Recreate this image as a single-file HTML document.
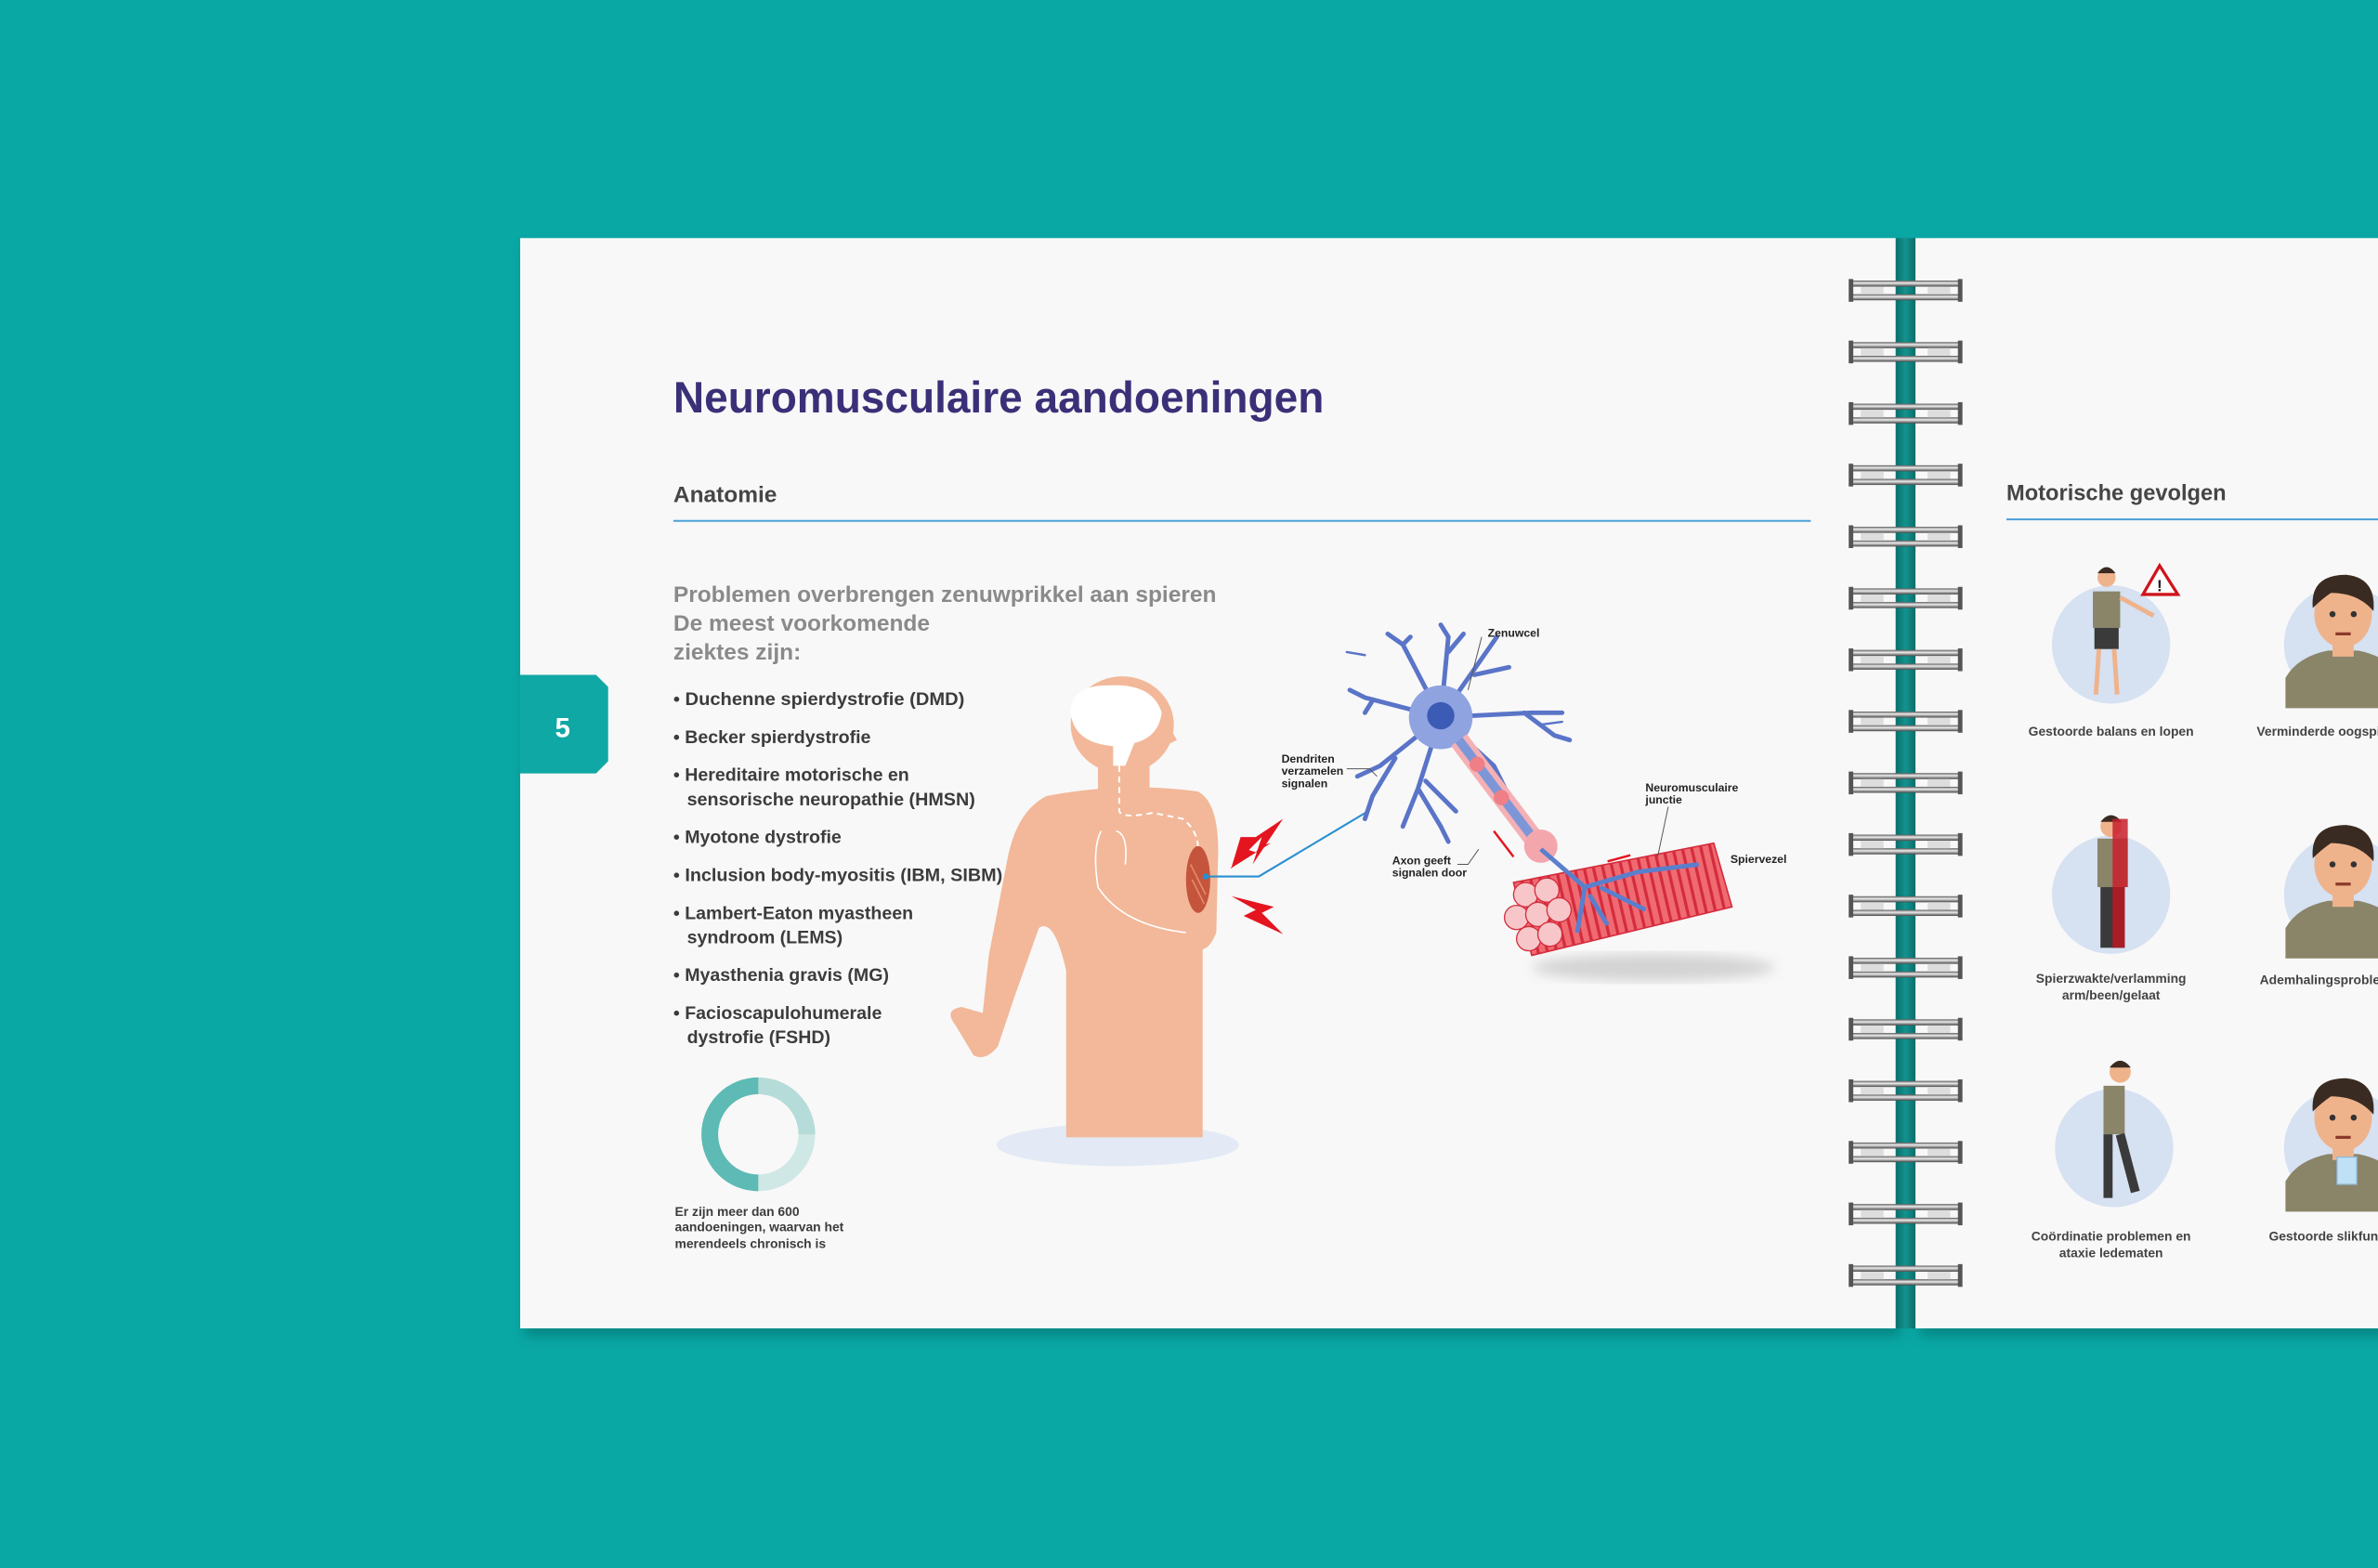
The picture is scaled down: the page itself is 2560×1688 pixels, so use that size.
<!DOCTYPE html>
<html><head><meta charset="utf-8"><style>
html,body{margin:0;padding:0;background:#0aa8a5;}
svg{display:block;}
text{font-family:"Liberation Sans",sans-serif;font-weight:bold;}
</style></head><body>
<svg width="2560" height="1688" viewBox="0 0 1568 1034" preserveAspectRatio="none" xmlns="http://www.w3.org/2000/svg">
<defs>
<filter id="sh" x="-5%" y="-5%" width="110%" height="115%"><feGaussianBlur stdDeviation="4"/></filter>
<filter id="bl"><feGaussianBlur stdDeviation="4"/></filter>
<linearGradient id="spine" x1="0" x2="1"><stop offset="0" stop-color="#0a6e6b"/><stop offset="0.5" stop-color="#14938f"/><stop offset="1" stop-color="#0a6e6b"/></linearGradient>
<linearGradient id="ring" x1="0" y1="0" x2="0" y2="1"><stop offset="0" stop-color="#555"/><stop offset="0.4" stop-color="#eee"/><stop offset="1" stop-color="#444"/></linearGradient>
<pattern id="stripe" width="6" height="10" patternUnits="userSpaceOnUse" patternTransform="rotate(-13)"><rect width="6" height="10" fill="#f06a72"/><rect width="2" height="10" fill="#d42c3c"/></pattern>
<clipPath id="rp"><rect x="1263" y="157" width="305" height="719"/></clipPath>
<g id="bust">
<circle cx="0" cy="0" r="39" fill="#d6e1f2"/>
<path d="M-38 22 Q-30 8 -10 4 L10 4 Q30 8 38 22 L38 42 L-38 42 Z" fill="#8a8468"/>
<rect x="-7" y="-6" width="14" height="14" fill="#efb38c"/>
<ellipse cx="0" cy="-20" rx="19" ry="22" fill="#efb38c"/>
<path d="M-20 -24 Q-22 -46 2 -46 Q22 -44 20 -22 Q10 -34 -8 -34 Q-14 -30 -20 -24 Z" fill="#3a2b22"/>
<circle cx="-7" cy="-20" r="2" fill="#333"/><circle cx="7" cy="-20" r="2" fill="#333"/>
<path d="M-5 -7 L5 -7" stroke="#8a3a2a" stroke-width="2"/>
</g>
</defs>

<rect width="1568" height="1034" fill="#0aa8a5"/>
<rect x="346" y="162" width="907" height="719" fill="#06625f" opacity="0.5" filter="url(#sh)"/>
<rect x="1266" y="162" width="310" height="719" fill="#06625f" opacity="0.5" filter="url(#sh)"/>
<rect x="343" y="157" width="907" height="719" fill="#f8f8f8"/>
<rect x="1263" y="157" width="305" height="719" fill="#f8f8f8"/>
<rect x="1250" y="157" width="13" height="719" fill="url(#spine)"/>

<g>
<g id="r0"><rect x="1220" y="185" width="73" height="4" fill="url(#ring)"/><rect x="1220" y="194" width="73" height="4" fill="url(#ring)"/><rect x="1219" y="184" width="3" height="15" fill="#555"/><rect x="1291" y="184" width="3" height="15" fill="#555"/><rect x="1227" y="189" width="15" height="5" fill="#ddd"/><rect x="1271" y="189" width="15" height="5" fill="#ddd"/></g>
<use href="#r0" y="40.6"/><use href="#r0" y="81.2"/><use href="#r0" y="121.8"/><use href="#r0" y="162.4"/><use href="#r0" y="203"/><use href="#r0" y="243.6"/><use href="#r0" y="284.2"/><use href="#r0" y="324.8"/><use href="#r0" y="365.4"/><use href="#r0" y="406"/><use href="#r0" y="446.6"/><use href="#r0" y="487.2"/><use href="#r0" y="527.8"/><use href="#r0" y="568.4"/><use href="#r0" y="609"/><use href="#r0" y="649.6"/>
</g>

<path d="M343 445 L393 445 L401 453 L401 502 L393 510 L343 510 Z" fill="#10a8a4"/>
<text x="371" y="486" font-size="18" fill="#fff" text-anchor="middle">5</text>

<text x="444" y="272" font-size="29" fill="#3a3078" textLength="429" lengthAdjust="spacingAndGlyphs">Neuromusculaire aandoeningen</text>
<text x="444" y="331" font-size="15" fill="#454545">Anatomie</text>
<line x1="444" y1="343.5" x2="1194" y2="343.5" stroke="#4a9fd8" stroke-width="1.2"/>
<g font-size="15" fill="#8a8a8a">
<text x="444" y="397" textLength="358" lengthAdjust="spacingAndGlyphs">Problemen overbrengen zenuwprikkel aan spieren</text>
<text x="444" y="416">De meest voorkomende</text>
<text x="444" y="435">ziektes zijn:</text>
</g>
<g font-size="12" fill="#3c3c3c">
<text x="444" y="465" textLength="192" lengthAdjust="spacingAndGlyphs">• Duchenne spierdystrofie (DMD)</text>
<text x="444" y="490">• Becker spierdystrofie</text>
<text x="444" y="515">• Hereditaire motorische en</text>
<text x="453" y="531" textLength="190" lengthAdjust="spacingAndGlyphs">sensorische neuropathie (HMSN)</text>
<text x="444" y="556">• Myotone dystrofie</text>
<text x="444" y="581" textLength="217" lengthAdjust="spacingAndGlyphs">• Inclusion body-myositis (IBM, SIBM)</text>
<text x="444" y="606">• Lambert-Eaton myastheen</text>
<text x="453" y="622">syndroom (LEMS)</text>
<text x="444" y="647">• Myasthenia gravis (MG)</text>
<text x="444" y="672">• Facioscapulohumerale</text>
<text x="453" y="688">dystrofie (FSHD)</text>
</g>

<circle cx="500" cy="748" r="32" fill="none" stroke="#cfe8e5" stroke-width="11"/>
<path d="M500 716 A32 32 0 0 1 532 748" fill="none" stroke="#b5dcd8" stroke-width="11"/>
<path d="M500 780 A32 32 0 0 1 468 748 A32 32 0 0 1 500 716" fill="none" stroke="#5dbab4" stroke-width="11"/>
<g font-size="8.5" fill="#3c3c3c">
<text x="445" y="802">Er zijn meer dan 600</text>
<text x="445" y="812">aandoeningen, waarvan het</text>
<text x="445" y="823">merendeels chronisch is</text>
</g>

<ellipse cx="737" cy="755" rx="80" ry="14" fill="#e3eaf5"/>
<path d="M690 525 Q740 515 790 522 Q805 530 803 570 L802 615 Q798 625 793 626 L793 750 L703 750 L703 640 Q695 605 685 612 L668 660 L658 690 Q650 700 642 696 L630 676 Q622 666 634 664 L648 668 L652 630 L664 568 Q670 535 690 525 Z" fill="#f2b899"/>
<rect x="724" y="495" width="34" height="32" fill="#f2b899"/>
<ellipse cx="740" cy="478" rx="34" ry="32" fill="#f2b899"/>
<path d="M766 470 L776 488 L768 492 Z" fill="#f2b899"/>
<path d="M706 470 Q706 452 730 452 Q760 450 766 470 Q764 486 748 490 L742 505 L734 505 L734 492 Q708 490 706 470 Z" fill="#fff"/>
<path d="M738 505 L738 535 Q740 540 760 536 L780 540 Q790 548 790 560" fill="none" stroke="#fff" stroke-width="1.2" stroke-dasharray="4 3"/>
<path d="M726 548 Q720 560 724 585 Q740 610 782 615 M736 548 Q744 550 742 570" fill="none" stroke="#fff" stroke-width="1"/>
<ellipse cx="790" cy="580" rx="8" ry="22" fill="#c4553c"/>
<path d="M785 570 L795 590 M786 580 L794 596" stroke="#e48a6c" stroke-width="1"/>
<circle cx="795" cy="578" r="2" fill="#2a8fd0"/>
<path d="M795 578 L830 578 L902 535" fill="none" stroke="#2a8fd0" stroke-width="1.3"/>
<path d="M846 540 L826 570 L832 552 L812 572 L818 552 L828 552 Z" fill="#e4151f"/>
<path d="M846 540 L830 558 L838 556 L811 573 L822 560 L828 562 Z" fill="#e4151f"/>
<path d="M812 591 L840 598 L832 602 L846 616 L820 604 L828 600 Z" fill="#e4151f"/>

<ellipse cx="1090" cy="638" rx="80" ry="9" fill="#bbb" filter="url(#bl)" opacity="0.6"/>
<g stroke="#5a74c8" fill="none" stroke-linecap="round">
<path d="M950 473 L925 425 L915 418 M925 425 L930 420" stroke-width="3"/>
<path d="M950 473 L955 420 L950 412 M955 430 L965 418" stroke-width="3"/>
<path d="M950 473 L980 430 L987 420 M972 445 L995 440" stroke-width="3"/>
<path d="M950 473 L1010 470 L1030 470 M1005 470 L1025 485 L1035 488" stroke-width="3"/>
<path d="M950 473 L900 460 L890 455 M905 462 L900 470" stroke-width="3"/>
<path d="M950 473 L910 505 L895 512 M920 500 L905 525 L900 540" stroke-width="3"/>
<path d="M950 473 L935 520 L925 545 M935 520 L950 545 L955 555 M940 515 L960 535" stroke-width="3"/>
<path d="M950 473 L985 505 L995 525" stroke-width="3"/>
<path d="M888 430 L900 432 M1015 478 L1030 476" stroke-width="1.5"/>
</g>
<circle cx="950" cy="473" r="21" fill="#8fa3e0"/>
<circle cx="950" cy="472" r="9" fill="#3b5bb5"/>
<path d="M962 488 L1015 558" stroke="#f4b0b4" stroke-width="13"/>
<path d="M962 488 L1015 558" stroke="#7d96d8" stroke-width="6"/>
<circle cx="974" cy="504" r="5" fill="#ef7e86"/><circle cx="990" cy="526" r="5" fill="#ef7e86"/>
<circle cx="1016" cy="558" r="11" fill="#f3a7ac"/>
<g>
<path d="M998 582 L1130 556 L1142 598 L1010 630 Z" fill="url(#stripe)"/>
<path d="M998 582 L1130 556 L1142 598 L1010 630 Z" fill="none" stroke="#d42c3c" stroke-width="1"/>
<g fill="#f7c6c9" stroke="#d42c3c" stroke-width="0.8">
<circle cx="1006" cy="590" r="8"/><circle cx="1020" cy="587" r="8"/><circle cx="1000" cy="605" r="8"/><circle cx="1014" cy="603" r="8"/><circle cx="1028" cy="600" r="8"/><circle cx="1008" cy="619" r="8"/><circle cx="1022" cy="616" r="8"/>
</g>
</g>
<path d="M1016 560 L1045 585 L1080 575 L1120 570 M1045 585 L1040 615 M1048 590 L1060 610 M1055 585 L1085 600" fill="none" stroke="#5a7fcc" stroke-width="3"/>
<path d="M1060 568 L1075 564" stroke="#e4151f" stroke-width="1.5"/>
<path d="M985 548 L998 565" stroke="#e4151f" stroke-width="1.5"/>
<g stroke="#555" stroke-width="0.6" fill="none">
<path d="M977 420 L968 455"/><path d="M888 507 L903 507 L908 512"/><path d="M961 570 L968 570 L975 560"/><path d="M1100 532 L1093 565"/>
</g>
<g font-size="7.5" fill="#222">
<text x="981" y="420">Zenuwcel</text>
<text x="845" y="503">Dendriten</text><text x="845" y="511">verzamelen</text><text x="845" y="519">signalen</text>
<text x="918" y="570">Axon geeft</text><text x="918" y="578">signalen door</text>
<text x="1085" y="522">Neuromusculaire</text><text x="1085" y="530">junctie</text>
<text x="1141" y="569">Spiervezel</text>
</g>

<text x="1323" y="330" font-size="14.5" fill="#454545">Motorische gevolgen</text>
<line x1="1323" y1="342.5" x2="1568" y2="342.5" stroke="#4a9fd8" stroke-width="1.2"/>
<g clip-path="url(#rp)">
<circle cx="1392" cy="425" r="39" fill="#d6e1f2"/>
<circle cx="1392" cy="590" r="39" fill="#d6e1f2"/>
<circle cx="1394" cy="757" r="39" fill="#d6e1f2"/>
<g>
<circle cx="1389" cy="381" r="6" fill="#efb38c"/><path d="M1383 378 Q1389 370 1395 378 Z" fill="#3a2b22"/>
<rect x="1380" y="390" width="18" height="24" fill="#8a8468"/><path d="M1398 394 L1420 406" stroke="#efb38c" stroke-width="3"/>
<rect x="1381" y="414" width="16" height="14" fill="#3a3a3a"/><path d="M1384 428 L1382 458 M1394 428 L1396 458" stroke="#efb38c" stroke-width="3"/>
<path d="M1413 392 L1424 373 L1436 392 Z" fill="#fff" stroke="#d0141c" stroke-width="2"/><text x="1424" y="390" font-size="11" fill="#222" text-anchor="middle">!</text>
</g>
<g>
<circle cx="1392" cy="545" r="7" fill="#efb38c"/><path d="M1385 542 Q1392 533 1399 542 Z" fill="#3a2b22"/>
<rect x="1383" y="553" width="20" height="32" fill="#8a8468"/><rect x="1393" y="540" width="10" height="45" fill="#c8202c" opacity="0.85"/>
<rect x="1385" y="585" width="16" height="40" fill="#3a3a3a"/><rect x="1393" y="585" width="8" height="40" fill="#a81c26"/>
</g>
<g>
<circle cx="1398" cy="707" r="7" fill="#efb38c"/><path d="M1391 704 Q1398 695 1405 704 Z" fill="#3a2b22"/>
<rect x="1387" y="716" width="14" height="32" fill="#8a8468"/>
<path d="M1390 748 L1390 790 M1398 748 L1408 786" stroke="#3a3a3a" stroke-width="6"/>
</g>
<use href="#bust" x="1545" y="425"/>
<use href="#bust" x="1545" y="590"/>
<use href="#bust" x="1545" y="757"/>
<rect x="1541" y="763" width="13" height="18" fill="#bfe0f5" stroke="#8fb8d8" stroke-width="0.8"/>
<g font-size="8.5" fill="#444">
<text x="1392" y="485" text-anchor="middle">Gestoorde balans en lopen</text>
<text x="1488" y="485">Verminderde oogspieren</text>
<text x="1392" y="648" text-anchor="middle">Spierzwakte/verlamming</text>
<text x="1392" y="659" text-anchor="middle">arm/been/gelaat</text>
<text x="1490" y="649">Ademhalingsproblemen</text>
<text x="1392" y="818" text-anchor="middle">Coördinatie problemen en</text>
<text x="1392" y="829" text-anchor="middle">ataxie ledematen</text>
<text x="1496" y="818">Gestoorde slikfunctie</text>
</g>
</g>
</svg>
</body></html>
